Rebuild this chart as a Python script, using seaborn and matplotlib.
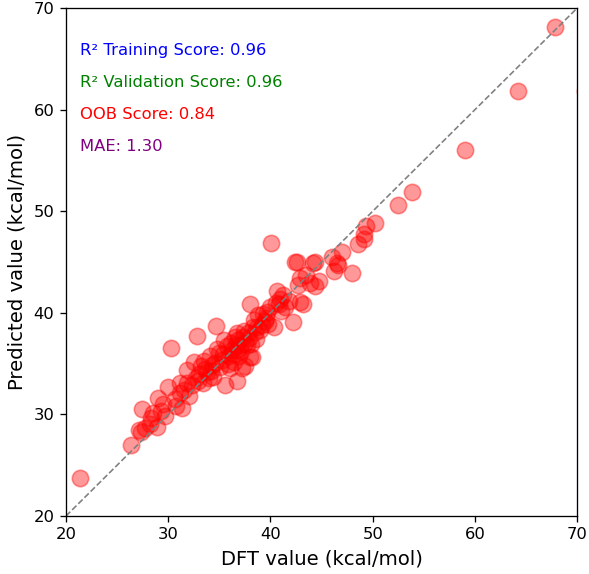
import numpy as np
import pandas as pd
import matplotlib
matplotlib.use("Agg")
import matplotlib.pyplot as plt
import seaborn as sns

# DFT reference values (kcal/mol)
dft_values = [
    21.4, 26.4, 27.1, 27.3, 27.4, 27.7, 28.2, 28.5, 28.3, 28.9,
    29.0, 29.3, 29.7, 29.5, 30.0, 30.3, 30.7, 30.8, 31.2, 31.3,
    31.2, 31.8, 31.8, 31.5, 32.0, 32.3, 32.5, 32.8, 32.7, 33.0,
    33.4, 33.2, 33.5, 33.8, 34.1, 34.0, 34.4, 34.3, 34.7, 34.6,
    35.1, 35.0, 35.3, 35.6, 35.7, 35.5, 35.9, 36.0, 36.2, 36.4,
    36.7, 36.7, 36.7, 36.5, 36.9, 37.0, 37.3, 37.2, 37.5, 37.5,
    37.7, 37.8, 38.0, 38.0, 38.2, 38.3, 38.4, 38.6, 38.7, 38.8,
    39.0, 39.3, 39.5, 39.6, 39.8, 40.0, 40.1, 40.3, 40.5, 40.6,
    40.9, 41.0, 41.4, 41.2, 41.8, 42.2, 42.4, 42.6, 42.7, 42.9,
    42.9, 43.2, 43.5, 43.9, 44.2, 44.4, 44.4, 44.7, 46.0, 46.2,
    46.5, 46.6, 47.0, 48.0, 48.6, 49.1, 49.1, 49.3, 50.2, 52.5,
    53.8, 59.0, 64.2, 67.8, 70.8,
    33.6, 34.8, 35.4, 36.1, 36.3, 36.8, 37.1, 37.9, 38.5, 39.2,
    34.2, 32.9, 35.8, 36.6, 37.4, 38.1, 39.7, 40.8,
]

# model predictions (kcal/mol)
predicted_values = [
    23.7, 27.0, 28.5, 28.3, 30.5, 28.7, 29.1, 30.1, 29.6, 28.8,
    31.6, 30.3, 29.8, 31.0, 32.7, 36.5, 31.5, 30.8, 32.1, 30.6,
    33.1, 33.1, 34.4, 32.4, 31.8, 32.9, 35.2, 37.7, 33.6, 34.0,
    33.1, 34.8, 35.3, 34.2, 35.8, 33.6, 33.7, 34.9, 38.7, 35.1,
    34.7, 36.0, 35.4, 32.9, 36.7, 37.3, 35.8, 34.6, 36.3, 35.2,
    33.3, 36.3, 38.0, 37.6, 35.8, 36.8, 37.6, 34.6, 34.8, 37.0,
    36.8, 38.0, 35.7, 40.9, 35.7, 38.6, 39.3, 37.4, 38.6, 39.8,
    38.3, 39.9, 39.2, 39.5, 38.9, 40.6, 46.9, 38.6, 41.0, 42.1,
    41.4, 40.2, 40.6, 41.8, 41.2, 39.1, 45.0, 45.0, 42.7, 43.4,
    41.1, 40.9, 43.7, 42.9, 44.9, 45.0, 42.6, 43.1, 45.5, 44.1,
    44.9, 44.7, 46.0, 43.9, 46.8, 47.3, 47.8, 48.5, 48.8, 50.6,
    51.9, 56.0, 61.8, 68.1, 61.8,
    34.5, 36.4, 35.9, 37.0, 35.9, 37.3, 36.2, 37.5, 38.1, 38.8,
    34.3, 33.3, 35.0, 36.8, 38.2, 36.9, 40.1, 40.9,
]

score_labels = ["R\u00b2 Training Score: 0.96", "R\u00b2 Validation Score: 0.96",
                "OOB Score: 0.84", "MAE: 1.30"]
score_colors = ["blue", "green", "red", "purple"]

df = pd.DataFrame({"DFT": dft_values, "Predicted": predicted_values})

DPI = 118
fig = plt.figure(figsize=(589 / DPI, 574 / DPI), dpi=DPI)
ax = fig.add_axes([0.112, 0.101, 0.868, 0.885])

sns.scatterplot(data=df, x="DFT", y="Predicted", ax=ax, color="red",
                alpha=0.4, s=100, edgecolor="red", linewidth=1, legend=False)
ax.plot([20, 70], [20, 70], color="gray", linestyle="--", linewidth=1)

ax.set_xlim(20, 70)
ax.set_ylim(20, 70)
ax.set_xticks([20, 30, 40, 50, 60, 70])
ax.set_yticks([20, 30, 40, 50, 60, 70])
ax.tick_params(labelsize=10)
ax.set_xlabel("DFT value (kcal/mol)", fontsize=12)
ax.set_ylabel("Predicted value (kcal/mol)", fontsize=12)

for i, (txt, col) in enumerate(zip(score_labels, score_colors)):
    ax.text(0.028, 0.917 - i * 0.063, txt, color=col, fontsize=10,
            transform=ax.transAxes, va="center", ha="left")

fig.savefig("out.png", dpi=DPI)
